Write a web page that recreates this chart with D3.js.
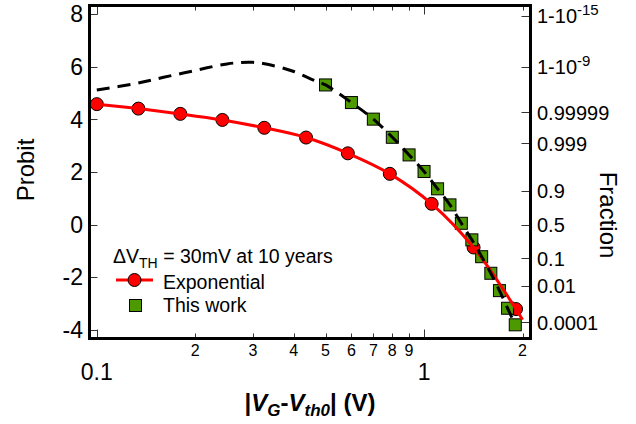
<!DOCTYPE html>
<html>
<head>
<meta charset="utf-8">
<script src="https://cdn.jsdelivr.net/npm/d3@7"></script>
<style>
  body { margin: 0; background: #fff; }
  text { font-family: "Liberation Sans", Arial, sans-serif; fill: #000; }
</style>
</head>
<body>
<script>
// Probit plot: exponential model vs this work

const W = 636, H = 424;

// Exponential (red circles)
const expX = [0.1, 0.134, 0.18, 0.242, 0.325, 0.436, 0.585, 0.786, 1.055, 1.417, 1.91];
const expP = [4.58, 4.41, 4.21, 3.98, 3.68, 3.31, 2.71, 1.93, 0.79, -0.87, -3.21];
// red fit curve (runs a bit past the last marker)
const expFitX = [0.1, 0.134, 0.18, 0.242, 0.325, 0.436, 0.585, 0.786, 1.055, 1.417, 1.91, 2.0];
const expFitP = [4.58, 4.41, 4.21, 3.98, 3.68, 3.31, 2.71, 1.93, 0.79, -0.87, -3.21, -3.62];

// This work (green squares)
const workX = [0.5, 0.6, 0.7, 0.8, 0.9, 1.0, 1.1, 1.2, 1.3, 1.4, 1.5, 1.6, 1.7, 1.8, 1.9];
const workP = [5.31, 4.64, 4.01, 3.32, 2.65, 2.02, 1.36, 0.75, 0.05, -0.58, -1.22, -1.85, -2.51, -3.18, -3.81];

// black dashed model curve
const dashX = [0.1, 0.13, 0.16, 0.2, 0.25, 0.3, 0.35, 0.4, 0.45, 0.5, 0.6, 0.7, 0.8, 0.9, 1.0, 1.1, 1.2, 1.3, 1.4, 1.5, 1.6, 1.7, 1.8, 1.9];
const dashP = [5.12, 5.35, 5.6, 5.86, 6.11, 6.17, 6.03, 5.82, 5.54, 5.31, 4.64, 4.01, 3.32, 2.65, 2.02, 1.36, 0.75, 0.05, -0.58, -1.22, -1.85, -2.51, -3.18, -3.81];

// axes
const yTicks = [-4, -2, 0, 2, 4, 6, 8];
const xMajor = [0.1, 1];
const xMinor = [0.2, 0.3, 0.4, 0.5, 0.6, 0.7, 0.8, 0.9, 2];
const fracProb = [1 - 1e-15, 1 - 1e-9, 0.99999, 0.999, 0.9, 0.5, 0.1, 0.01, 0.0001];
const fracLabel = ["1-10", "1-10", "0.99999", "0.999", "0.9", "0.5", "0.1", "0.01", "0.0001"];
const fracSup = ["-15", "-9", "", "", "", "", "", "", ""];

// inverse normal cdf (Acklam)
function normInv(p) {
    const a = [-3.969683028665376e+01, 2.209460984245205e+02, -2.759285104469687e+02, 1.383577518672690e+02, -3.066479806614716e+01, 2.506628277459239e+00];
    const b = [-5.447609879822406e+01, 1.615858368580409e+02, -1.556989798598866e+02, 6.680131188771972e+01, -1.328068155288572e+01];
    const c = [-7.784894002430293e-03, -3.223964580411365e-01, -2.400758277161838e+00, -2.549732539343734e+00, 4.374664141464968e+00, 2.938163982698783e+00];
    const d = [7.784695709041462e-03, 3.224671290700398e-01, 2.445134137142996e+00, 3.754408661907416e+00];
    let q, r;
    if (p < 0.02425) {
        q = Math.sqrt(-2 * Math.log(p));
        return (((((c[0]*q+c[1])*q+c[2])*q+c[3])*q+c[4])*q+c[5]) / ((((d[0]*q+d[1])*q+d[2])*q+d[3])*q+1);
    }
    if (p > 1 - 0.02425) {
        q = Math.sqrt(-2 * Math.log(1 - p));
        return -(((((c[0]*q+c[1])*q+c[2])*q+c[3])*q+c[4])*q+c[5]) / ((((d[0]*q+d[1])*q+d[2])*q+d[3])*q+1);
    }
    q = p - 0.5; r = q * q;
    return (((((a[0]*r+a[1])*r+a[2])*r+a[3])*r+a[4])*r+a[5])*q / (((((b[0]*r+b[1])*r+b[2])*r+b[3])*r+b[4])*r+1);
}

const L = 89.5, R = 530.5, T = 5.5, B = 338.5;

const x = d3.scaleLog().domain([0.095, 2.115]).range([L, R]);
const y = d3.scaleLinear().domain([-4.33, 8.33]).range([B, T]);

const svg = d3.select('body').append('svg')
    .attr('width', W)
    .attr('height', H);

// ticks (inside)
const tk = svg.append('g').attr('stroke', '#333').attr('stroke-width', 1);
yTicks.forEach(v => {
    tk.append('line').attr('x1', L).attr('x2', L + 8).attr('y1', Math.round(y(v)) + 0.5).attr('y2', Math.round(y(v)) + 0.5);
});
fracProb.forEach(p => {
    const yy = Math.round(y(normInv(p))) + 0.5;
    tk.append('line').attr('x1', R - 9).attr('x2', R).attr('y1', yy).attr('y2', yy);
});
xMajor.concat(xMinor).forEach(v => {
    const len = xMajor.includes(v) ? 9 : 5;
    const xx = Math.round(x(v)) + 0.5;
    tk.append('line').attr('x1', xx).attr('x2', xx).attr('y1', B).attr('y2', B - len);
    tk.append('line').attr('x1', xx).attr('x2', xx).attr('y1', T).attr('y2', T + len);
});

// tick labels
svg.append('g').selectAll('text').data(yTicks).join('text')
    .attr('x', 83)
    .attr('y', d => y(d))
    .attr('dy', '0.36em')
    .attr('text-anchor', 'end')
    .style('font-size', '23px')
    .text(d => d);

svg.append('g').selectAll('text').data(xMajor).join('text')
    .attr('x', d => x(d))
    .attr('y', 380)
    .attr('text-anchor', 'middle')
    .style('font-size', '23px')
    .text(d => d);

svg.append('g').selectAll('text').data(xMinor).join('text')
    .attr('x', d => x(d))
    .attr('y', 356)
    .attr('text-anchor', 'middle')
    .style('font-size', '16px')
    .text(d => d < 1 ? Math.round(d * 10) : d);

const fr = svg.append('g').selectAll('text').data(fracProb).join('text')
    .attr('x', 537)
    .attr('y', d => y(normInv(d)))
    .attr('dy', '0.36em')
    .style('font-size', '20px');
fr.append('tspan').text((d, i) => fracLabel[i]);
fr.append('tspan')
    .attr('dy', '-0.55em')
    .style('font-size', '15px')
    .text((d, i) => fracSup[i]);

// axis titles
svg.append('text')
    .attr('transform', 'translate(34,170) rotate(-90)')
    .attr('text-anchor', 'middle')
    .style('font-size', '24px')
    .text('Probit');

svg.append('text')
    .attr('transform', 'translate(600,215) rotate(90)')
    .attr('text-anchor', 'middle')
    .style('font-size', '24px')
    .text('Fraction');

const xt = svg.append('text')
    .attr('x', 310)
    .attr('y', 411)
    .attr('text-anchor', 'middle')
    .style('font-size', '24px')
    .style('font-weight', 'bold');
xt.append('tspan').text('|');
xt.append('tspan').style('font-style', 'italic').text('V');
xt.append('tspan').style('font-style', 'italic').style('font-size', '17px').attr('dy', 5).text('G');
xt.append('tspan').attr('dy', -5).text('-');
xt.append('tspan').style('font-style', 'italic').text('V');
xt.append('tspan').style('font-style', 'italic').style('font-size', '17px').attr('dy', 5).text('th0');
xt.append('tspan').attr('dy', -5).text('| (V)');

// marks
const line = d3.line()
    .x(d => x(d[0]))
    .y(d => y(d[1]))
    .curve(d3.curveCatmullRom.alpha(0.5));

svg.append('g').selectAll('circle').data(d3.zip(expX, expP)).join('circle')
    .attr('cx', d => x(d[0]))
    .attr('cy', d => y(d[1]))
    .attr('r', 6.5)
    .attr('fill', '#ff0000')
    .attr('stroke', '#000')
    .attr('stroke-width', 1);

svg.append('g').selectAll('rect').data(d3.zip(workX, workP)).join('rect')
    .attr('x', d => x(d[0]) - 6)
    .attr('y', d => y(d[1]) - 6)
    .attr('width', 12)
    .attr('height', 12)
    .attr('fill', '#4d9900')
    .attr('stroke', '#000')
    .attr('stroke-width', 1);

svg.append('path')
    .datum(d3.zip(expFitX, expFitP))
    .attr('d', line)
    .attr('fill', 'none')
    .attr('stroke', '#ff0000')
    .attr('stroke-width', 3);

svg.append('path')
    .datum(d3.zip(dashX, dashP))
    .attr('d', line)
    .attr('fill', 'none')
    .attr('stroke', '#000')
    .attr('stroke-width', 3)
    .attr('stroke-dasharray', '13,8');

// legend
const lg = svg.append('text')
    .attr('x', 113)
    .attr('y', 263)
    .style('font-size', '19.5px');
lg.append('tspan').text('ΔV');
lg.append('tspan').attr('dy', 5).style('font-size', '14px').text('TH');
lg.append('tspan').attr('dy', -5).text(' = 30mV at 10 years');

svg.append('line')
    .attr('x1', 116).attr('x2', 153).attr('y1', 280).attr('y2', 280)
    .attr('stroke', '#ff0000').attr('stroke-width', 3);
svg.append('circle')
    .attr('cx', 134.5).attr('cy', 280).attr('r', 6.5)
    .attr('fill', '#ff0000').attr('stroke', '#000');
svg.append('text').attr('x', 163).attr('y', 289).style('font-size', '19.5px').text('Exponential');

svg.append('rect')
    .attr('x', 129.5).attr('y', 299.5).attr('width', 12).attr('height', 12)
    .attr('fill', '#4d9900').attr('stroke', '#000');
svg.append('text').attr('x', 163).attr('y', 312).style('font-size', '19.5px').text('This work');

// frame
svg.append('rect')
    .attr('x', L).attr('y', T)
    .attr('width', R - L).attr('height', B - T)
    .attr('fill', 'none')
    .attr('stroke', '#000')
    .attr('stroke-width', 3);
</script>
</body>
</html>
